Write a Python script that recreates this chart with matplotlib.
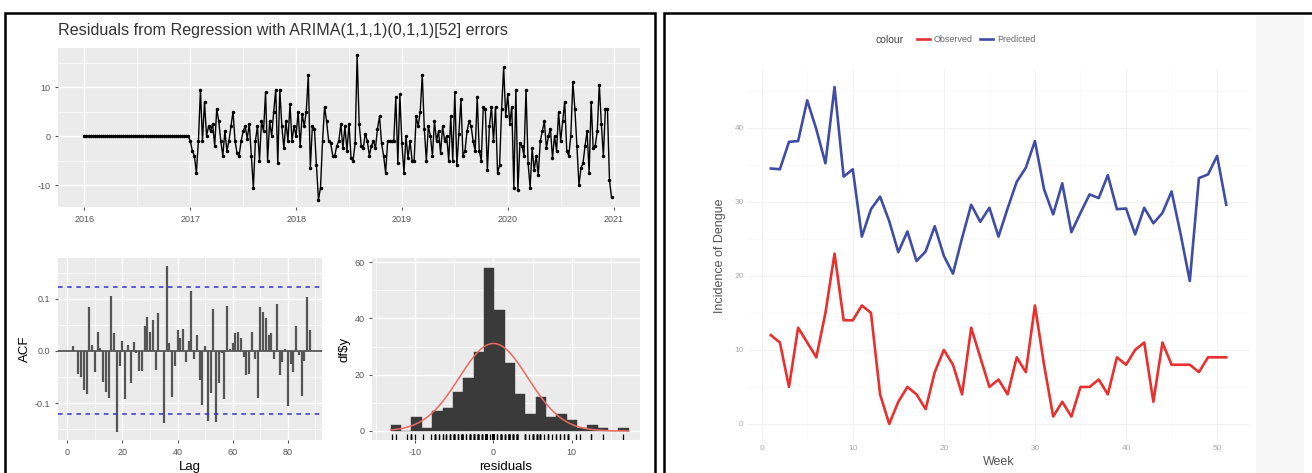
import numpy as np
import matplotlib.pyplot as plt
from matplotlib.patches import Rectangle
from matplotlib.lines import Line2D
from matplotlib.ticker import MultipleLocator

plt.rcParams['font.family'] = ['Liberation Sans', 'DejaVu Sans']
plt.rcParams['axes.unicode_minus'] = False

# residuals of the regression model, weekly values 2016-2020
resid_2016 = [0.0] * 52
resid_2017 = [-1, -3, -4, -7.5, -1, 9.5, -1, 7, 0, 2, 1, 2.5, -2, 5.5, 3, -1, -4, 1, -3, -1,
              2, 5, -1, -3.5, -4, -1, 1, 2, -0.5, 2.5, -4, -10.5, -1, 2, -5, 3, 1, 9, -5, 3,
              0, 5, 9.5, -5.5, 9.5, 2, -2.5, 3, -1, 6.5, -1, 2]
resid_2018 = [0, 5, -2, 4.5, 2, 5, 12.5, -6.5, 2, 1.5, -6, -13, -10.5, -1, 6, 3, -1, -1.5, -4, -4,
              -2, -1, 2.5, -2.5, 2, -3, 2.5, -4.5, -5, -1.5, 16.5, 2.5, -2, -2.5, 0.5, -1, -4, -2, -1, -2.5,
              1.5, 4, -1.5, -4, -7.5, -1, -1, -1, -1, 8, -5.5, 8.5]
resid_2019 = [-1.5, -7.5, 0, -4.5, -1, -5, -5, 4, 2, 5, 12.5, 1.5, -5, 2, 0, -4, 3, -1, 1, -3.5,
              2, -1, 0, -5, 4, -5, 9, -6, 0.5, 7.5, -4, -3, 1, 3, 2, -1, -3, 8, -3, -5,
              6, 5.5, -7, 2, 6, -1, 6, -7.5, -6, 5.5, 14, 4]
resid_2020 = [8.5, 2.5, 6, -10.5, 9.5, -11, -1.5, -2, -4, 9.5, -5.5, -10.5, -2.5, -7, -4, -8, -1, 1, 3, -2.5,
              0, 1.5, -4.5, 0, -3, 5, -1, 3, 7, -3, -4, 0, 11, 5.5, -2, -10, -6.5, -5.5, -2, 1,
              -7.5, 7, -2.5, -2, 1, 10.5, 2.5, -4, 5.5, 5.5, -9, -12.5]
residuals = resid_2016 + resid_2017 + resid_2018 + resid_2019 + resid_2020

# autocorrelation of residuals, lags 1..88
acf_values = [0.0, 0.01, 0.0, -0.044, -0.05, -0.075, -0.082, 0.084, 0.012, -0.04,
              0.036, 0.006, -0.06, -0.078, -0.09, 0.105, 0.034, -0.155, -0.03, 0.018,
              -0.093, 0.012, -0.062, 0.017, -0.005, -0.038, -0.038, 0.047, 0.065, 0.037,
              0.06, -0.037, 0.072, 0.0, -0.138, 0.162, 0.015, -0.088, -0.03, 0.04,
              0.025, 0.042, -0.022, 0.018, 0.115, -0.015, 0.031, -0.056, -0.103, 0.01,
              -0.134, -0.08, 0.08, -0.137, -0.062, -0.005, -0.093, 0.086, 0.004, 0.015,
              0.035, 0.037, 0.025, -0.012, -0.046, -0.045, 0.037, -0.015, -0.09, 0.084,
              0.075, 0.062, 0.03, 0.035, -0.015, 0.09, -0.046, -0.022, 0.004, -0.106,
              -0.025, -0.04, 0.047, -0.008, -0.087, -0.02, 0.103, 0.04]

# histogram of residuals
hist_counts = [2, 0, 5, 1, 7, 8, 14, 19, 28, 58, 43, 24, 13, 6, 12, 5, 6, 4, 1, 2, 1, 0, 1]
hist_start = -13.1
hist_width = 1.32
curve_mean = 0.0
curve_sd = 4.4

# dengue incidence by week
weeks = list(range(1, 52))
observed = [12, 11, 5, 13, 11, 9, 15, 23, 14, 14, 16, 15, 4, 0, 3, 5, 4, 2, 7, 10,
            8, 4, 13, 9, 5, 6, 4, 9, 7, 16, 8, 1, 3, 1, 5, 5, 6, 4, 9, 8,
            10, 11, 3, 11, 8, 8, 8, 7, 9, 9, 9]
predicted = [34.5, 34.4, 38.1, 38.2, 43.7, 39.8, 35.2, 45.5, 33.4, 34.4, 25.3, 29.0, 30.7, 27.4,
             23.2, 26.0, 22.0, 23.3, 26.7, 22.7, 20.3, 25.1, 29.6, 27.3, 29.2, 25.3, 29.1, 32.7,
             34.6, 38.2, 31.7, 28.3, 32.5, 25.9, 28.5, 31.0, 30.5, 33.6, 29.0, 29.1, 25.6, 29.2,
             27.1, 28.5, 31.4, 25.6, 19.3, 33.2, 33.7, 36.2, 29.6]

W, H = 1312, 473
fig = plt.figure(figsize=(W / 100, H / 100), dpi=100)


def box(x0, y0, x1, y1):
    return [x0 / W, 1 - y1 / H, (x1 - x0) / W, (y1 - y0) / H]


def gg_style(ax):
    ax.set_facecolor('#EBEBEB')
    for s in ax.spines.values():
        s.set_visible(False)
    ax.grid(which='major', color='white', lw=1.0)
    ax.grid(which='minor', color='white', lw=0.5)
    ax.set_axisbelow(True)
    ax.tick_params(which='major', length=2.5, color='#555555', labelsize=6.5, labelcolor='#555555', pad=3)
    ax.tick_params(which='minor', length=0)


# outer frames
fig.add_artist(Rectangle((5 / W, -0.02), 650 / W, 1.02 - 13 / H, transform=fig.transFigure,
                         fill=False, ec='black', lw=1.8))
fig.add_artist(Rectangle((664 / W, -0.02), 0.5, 1.02 - 13 / H, transform=fig.transFigure,
                         fill=False, ec='black', lw=1.8))
fig.add_artist(Rectangle((1256 / W, 0), 48 / W, 1 - 16 / H, transform=fig.transFigure,
                         fc='#F7F7F7', ec='none'))

fig.text(58 / W, 1 - 30 / H, 'Residuals from Regression with ARIMA(1,1,1)(0,1,1)[52] errors',
         fontsize=11.6, color='#333333', va='center', ha='left')

# residual time series
ax1 = fig.add_axes(box(58, 48, 640, 207))
gg_style(ax1)
t = 2016 + np.arange(len(residuals)) / 52
ax1.plot(t, residuals, color='black', lw=1.0)
ax1.plot(t, residuals, 'o', color='black', ms=1.5)
ax1.set_xticks([2016, 2017, 2018, 2019, 2020, 2021])
ax1.xaxis.set_minor_locator(MultipleLocator(0.5))
ax1.set_yticks([-10, 0, 10])
ax1.yaxis.set_minor_locator(MultipleLocator(5))
ax1.set_xlim(2015.75, 2021.25)

# ACF
ax2 = fig.add_axes(box(58, 258, 322, 440))
gg_style(ax2)
lags = np.arange(1, len(acf_values) + 1)
ax2.vlines(lags, 0, acf_values, color='#555555', lw=1.6)
ax2.axhline(0, color='#555555', lw=1.3)
ci = 1.96 / np.sqrt(len(residuals))
ax2.axhline(ci, color='#3333CC', lw=1.1, ls=(0, (3, 3)))
ax2.axhline(-ci, color='#3333CC', lw=1.1, ls=(0, (3, 3)))
ax2.set_xticks([0, 20, 40, 60, 80])
ax2.xaxis.set_minor_locator(MultipleLocator(10))
ax2.set_yticks([-0.1, 0.0, 0.1])
ax2.set_yticklabels(['-0.1', '0.0', '0.1'])
ax2.yaxis.set_minor_locator(MultipleLocator(0.05))
ax2.set_xlim(-3.4, 92.4)
ax2.set_xlabel('Lag', fontsize=9.5, labelpad=3)
ax2.set_ylabel('ACF', fontsize=9.5, labelpad=3)

# histogram
ax3 = fig.add_axes(box(372, 258, 640, 440))
gg_style(ax3)
edges = hist_start + hist_width * np.arange(len(hist_counts))
ax3.bar(edges, hist_counts, width=hist_width, align='edge', color='#3A3A3A', ec='#3A3A3A', lw=0.3)
xs = np.linspace(hist_start, hist_start + hist_width * len(hist_counts), 300)
dens = len(residuals) * hist_width * np.exp(-0.5 * ((xs - curve_mean) / curve_sd) ** 2) / (curve_sd * np.sqrt(2 * np.pi))
ax3.plot(xs, dens, color='#EE6A5E', lw=1.1)
ax3.set_xlim(-15.5, 18.7)
ax3.set_ylim(-3.2, 61.5)
ax3.vlines(residuals, 0, 0.035, transform=ax3.get_xaxis_transform(), color='black', lw=0.9)
ax3.set_xticks([-10, 0, 10])
ax3.xaxis.set_minor_locator(MultipleLocator(5))
ax3.set_yticks([0, 20, 40, 60])
ax3.yaxis.set_minor_locator(MultipleLocator(10))
ax3.set_xlabel('residuals', fontsize=9.5, labelpad=3)
ax3.set_ylabel('df$y', fontsize=9.5, labelpad=3)

# observed vs predicted dengue
ax4 = fig.add_axes(box(748, 70, 1249, 441))
for s in ax4.spines.values():
    s.set_visible(False)
ax4.grid(True, which='major', color='#F2F2F2', lw=0.8)
ax4.grid(True, which='minor', color='#F8F8F8', lw=0.5)
ax4.set_axisbelow(True)
ax4.plot(weeks, observed, color='#E8302F', lw=1.9)
ax4.plot(weeks, predicted, color='#3F4DA6', lw=1.9)
ax4.set_xticks([0, 10, 20, 30, 40, 50])
ax4.set_yticks([0, 10, 20, 30, 40])
ax4.xaxis.set_minor_locator(MultipleLocator(5))
ax4.yaxis.set_minor_locator(MultipleLocator(5))
ax4.set_xlim(-1.5, 53.5)
ax4.set_ylim(-2.3, 47.8)
ax4.tick_params(which='both', length=0, labelsize=6, labelcolor='#AAAAAA', pad=3)
ax4.set_xlabel('Week', fontsize=9, color='#555555', labelpad=3)
ax4.set_ylabel('Incidence of Dengue', fontsize=9, color='#555555', labelpad=6)

fig.text(876 / W, 1 - 40 / H, 'colour', fontsize=7.5, color='#444444', va='center', ha='left')
handles = [Line2D([], [], color='#E8302F', lw=1.9), Line2D([], [], color='#3F4DA6', lw=1.9)]
fig.legend(handles, ['Observed', 'Predicted'], loc='center left', bbox_to_anchor=(912 / W, 1 - 40 / H),
           ncol=2, frameon=False, fontsize=6.5, handlelength=1.5, columnspacing=0.8,
           handletextpad=0.4, borderpad=0, labelcolor='#666666')

fig.savefig('out.png', dpi=100)
